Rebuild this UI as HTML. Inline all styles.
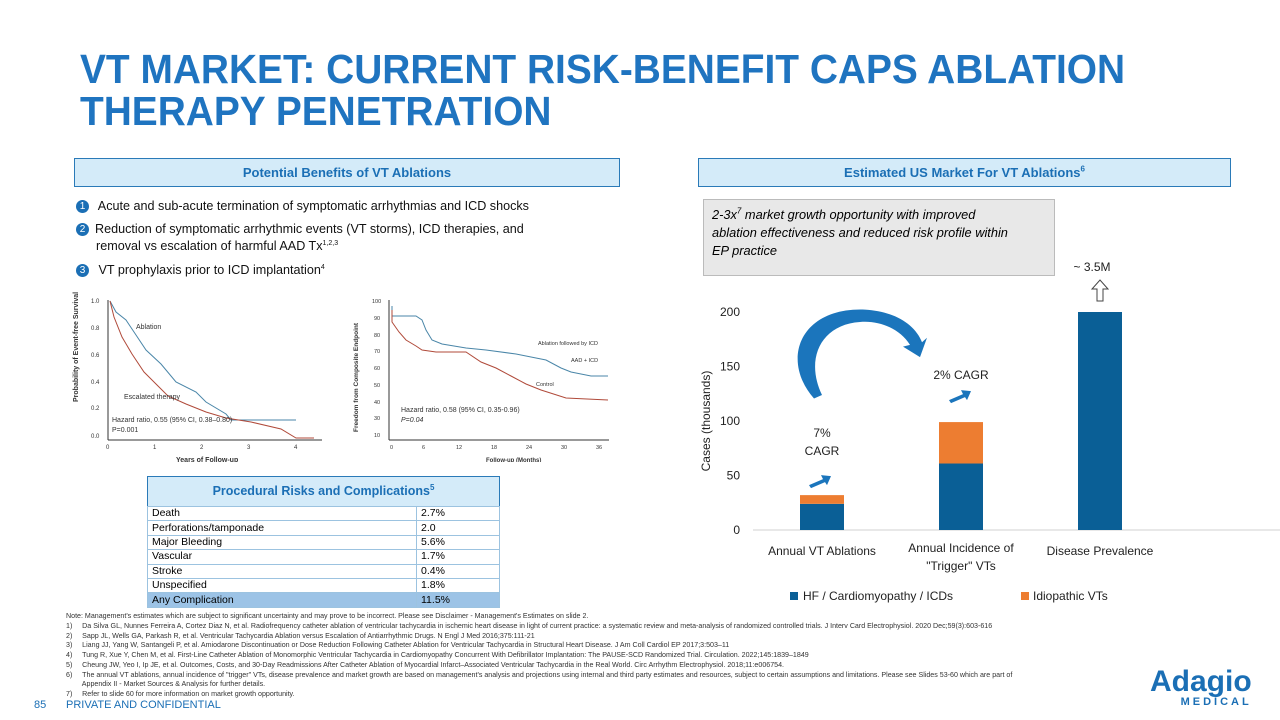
<!DOCTYPE html>
<html><head><meta charset="utf-8"><style>
body{margin:0;width:1280px;height:720px;position:relative;overflow:hidden;background:#fff;font-family:"Liberation Sans",sans-serif}
.abs{position:absolute}
.title{left:80px;top:48px;font-size:41px;font-weight:bold;color:#1f74c0;line-height:42px;transform:scaleX(0.948);transform-origin:left top;white-space:nowrap}
.hdr{background:#d4ebf9;border:1px solid #2a7ab8;color:#1b6fb5;font-weight:bold;font-size:13px;text-align:center;line-height:27px;height:27px}
.hdr sup{line-height:0;font-size:8px}
.bul{font-size:12.6px;color:#111;line-height:17px}
.num{display:inline-block;width:13px;height:13px;border-radius:50%;background:#1b6fb5;color:#fff;font-size:10px;text-align:center;line-height:13px;margin-right:6px;vertical-align:1px}
table{border-collapse:collapse;font-size:10.5px}
td{border:1px solid #9cc3e0;padding:0 4px;height:13.4px;line-height:13px}
.fn{left:66px;font-size:7.1px;color:#333;line-height:9.75px;width:1100px;white-space:nowrap}
</style></head><body>
<div class="abs title">VT MARKET: CURRENT RISK-BENEFIT CAPS ABLATION<br>THERAPY PENETRATION</div>
<div class="abs hdr" style="left:74px;top:158px;width:544px">Potential Benefits of VT Ablations</div>
<div class="abs hdr" style="left:698px;top:158px;width:531px">Estimated US Market For VT Ablations<sup>6</sup></div>
<div class="abs bul" style="left:76px;top:198px"><span class="num">1</span> Acute and sub-acute termination of symptomatic arrhythmias and ICD shocks</div>
<div class="abs bul" style="left:76px;top:221px;width:500px"><span class="num">2</span>Reduction of symptomatic arrhythmic events (VT storms), ICD therapies, and<br><span style="padding-left:20px">removal vs escalation of harmful AAD Tx<sup style="font-size:7px;line-height:0">1,2,3</sup></span></div>
<div class="abs bul" style="left:76px;top:262px"><span class="num">3</span> VT prophylaxis prior to ICD implantation<sup style="font-size:7px;line-height:0">4</sup></div>

<svg class="abs" style="left:66px;top:292px" width="560" height="170" font-family="Liberation Sans" font-size="7" fill="#333">
<text transform="translate(12,110) rotate(-90)" font-weight="bold" font-size="7">Probability of Event-free Survival</text>
<line x1="42" y1="8" x2="42" y2="148" stroke="#333"/><line x1="42" y1="148" x2="256" y2="148" stroke="#333"/>
<g font-size="6"><text x="25" y="11">1.0</text><text x="25" y="38">0.8</text><text x="25" y="65">0.6</text><text x="25" y="92">0.4</text><text x="25" y="118">0.2</text><text x="25" y="146">0.0</text>
<text x="40" y="157">0</text><text x="87" y="157">1</text><text x="134" y="157">2</text><text x="181" y="157">3</text><text x="228" y="157">4</text></g>
<text x="110" y="170" font-weight="bold">Years of Follow-up</text>
<polyline fill="none" stroke="#4a86a8" stroke-width="1" points="44,9 50,20 60,28 68,40 80,58 95,72 110,90 130,100 140,110 160,122 165,128 230,128"/>
<polyline fill="none" stroke="#b04a3a" stroke-width="1" points="44,9 48,25 56,45 66,62 78,80 90,92 102,104 120,112 140,120 160,126 185,130 215,137 230,146 248,146"/>
<text x="70" y="37">Ablation</text><text x="58" y="107">Escalated therapy</text>
<text x="46" y="130">Hazard ratio, 0.55 (95% CI, 0.38–0.80)</text><text x="46" y="140">P=0.001</text>
<text transform="translate(292,140) rotate(-90)" font-weight="bold" font-size="6.5">Freedom from Composite Endpoint</text>
<line x1="323" y1="8" x2="323" y2="148" stroke="#333"/><line x1="323" y1="148" x2="543" y2="148" stroke="#333"/>
<g font-size="5.5"><text x="306" y="11">100</text><text x="308" y="28">90</text><text x="308" y="45">80</text><text x="308" y="61">70</text><text x="308" y="78">60</text><text x="308" y="95">50</text><text x="308" y="112">40</text><text x="308" y="128">30</text><text x="308" y="145">10</text>
<text x="324" y="157">0</text><text x="356" y="157">6</text><text x="390" y="157">12</text><text x="425" y="157">18</text><text x="460" y="157">24</text><text x="495" y="157">30</text><text x="530" y="157">36</text></g>
<text x="420" y="170" font-weight="bold" font-size="6">Follow-up (Months)</text>
<polyline fill="none" stroke="#4a86a8" points="326,14 326,24 350,24 356,28 360,38 366,48 376,52 400,56 420,58 450,62 480,68 495,76 505,80 525,84 542,84"/>
<polyline fill="none" stroke="#b04a3a" points="326,18 326,30 333,40 340,48 350,54 356,58 370,60 400,60 415,70 430,76 445,84 460,92 475,98 500,106 542,108"/>
<text x="472" y="53" font-size="5.5">Ablation followed by ICD</text><text x="505" y="70" font-size="5.5">AAD + ICD</text><text x="470" y="94" font-size="5.5">Control</text>
<text x="335" y="120">Hazard ratio, 0.58 (95% CI, 0.35-0.96)</text><text x="335" y="130" font-style="italic">P=0.04</text>
</svg>

<div class="abs hdr" style="left:147px;top:476px;width:351px;font-size:12.5px;line-height:29px;height:29px;border-bottom:none">Procedural Risks and Complications<sup>5</sup></div>
<table class="abs" style="left:147px;top:506px;width:353px">
<tr><td style="width:260px">Death</td><td>2.7%</td></tr>
<tr><td>Perforations/tamponade</td><td>2.0</td></tr>
<tr><td>Major Bleeding</td><td>5.6%</td></tr>
<tr><td>Vascular</td><td>1.7%</td></tr>
<tr><td>Stroke</td><td>0.4%</td></tr>
<tr><td>Unspecified</td><td>1.8%</td></tr>
<tr style="background:#9cc3e6"><td>Any Complication</td><td>11.5%</td></tr>
</table>

<div class="abs" style="left:703px;top:199px;width:352px;height:77px;background:#e8e8e8;border:1px solid #bbb;font-size:12.8px;font-style:italic;line-height:18px;padding:6px 42px 0 8px;box-sizing:border-box">2-3x<sup style="font-size:8px;line-height:0">7</sup> market growth opportunity with improved ablation effectiveness and reduced risk profile within EP practice</div>

<svg class="abs" style="left:660px;top:255px" width="620" height="360" id="chart" font-family="Liberation Sans" font-size="12" fill="#222"></svg>

<div class="abs fn" style="top:612px">Note: Management's estimates which are subject to significant uncertainty and may prove to be incorrect. Please see Disclaimer - Management's Estimates on slide 2.<br>
1)&nbsp;&nbsp;&nbsp;&nbsp;&nbsp;Da Silva GL, Nunnes Ferreira A, Cortez Diaz N, et al. Radiofrequency catheter ablation of ventricular tachycardia in ischemic heart disease in light of current practice: a systematic review and meta-analysis of randomized controlled trials. J Interv Card Electrophysiol. 2020 Dec;59(3):603-616<br>
2)&nbsp;&nbsp;&nbsp;&nbsp;&nbsp;Sapp JL, Wells GA, Parkash R, et al. Ventricular Tachycardia Ablation versus Escalation of Antiarrhythmic Drugs. N Engl J Med 2016;375:111-21<br>
3)&nbsp;&nbsp;&nbsp;&nbsp;&nbsp;Liang JJ, Yang W, Santangeli P, et al. Amiodarone Discontinuation or Dose Reduction Following Catheter Ablation for Ventricular Tachycardia in Structural Heart Disease. J Am Coll Cardiol EP 2017;3:503–11<br>
4)&nbsp;&nbsp;&nbsp;&nbsp;&nbsp;Tung R, Xue Y, Chen M, et al. First-Line Catheter Ablation of Monomorphic Ventricular Tachycardia in Cardiomyopathy Concurrent With Defibrillator Implantation: The PAUSE-SCD Randomized Trial. Circulation. 2022;145:1839–1849<br>
5)&nbsp;&nbsp;&nbsp;&nbsp;&nbsp;Cheung JW, Yeo I, Ip JE, et al. Outcomes, Costs, and 30-Day Readmissions After Catheter Ablation of Myocardial Infarct–Associated Ventricular Tachycardia in the Real World. Circ Arrhythm Electrophysiol. 2018;11:e006754.<br>
6)&nbsp;&nbsp;&nbsp;&nbsp;&nbsp;The annual VT ablations, annual incidence of "trigger" VTs, disease prevalence and market growth are based on management's analysis and projections using internal and third party estimates and resources, subject to certain assumptions and limitations. Please see Slides 53-60 which are part of<br>
&nbsp;&nbsp;&nbsp;&nbsp;&nbsp;&nbsp;&nbsp;&nbsp;Appendix II - Market Sources &amp; Analysis for further details.<br>
7)&nbsp;&nbsp;&nbsp;&nbsp;&nbsp;Refer to slide 60 for more information on market growth opportunity.</div>
<div class="abs" style="left:34px;top:699px;font-size:11px;color:#1b6fb5">85</div>
<div class="abs" style="left:66px;top:699px;font-size:11px;color:#1b6fb5">PRIVATE AND CONFIDENTIAL</div>
<div class="abs" style="left:1150px;top:668px;font-size:30px;font-weight:bold;color:#1b6fb5;line-height:28px">Adagio<div style="font-size:11px;letter-spacing:3px;text-align:right;line-height:12px">MEDICAL</div></div>

<script>
const categories=["Annual VT Ablations","Annual Incidence of|\"Trigger\" VTs","Disease Prevalence"];
const hfValues=[24,61,200];
const idioValues=[8,38,0];
const yTicks=[0,50,100,150,200];
const svg=document.getElementById('chart');
const NS="http://www.w3.org/2000/svg";
const ox=660,oy=255;
const y0=530-oy, pxPer=218/200;
const yS=v=>y0-v*pxPer;
const xS=i=>822-ox+i*139;
const bw=44;
function mk(t,a,p){const e=document.createElementNS(NS,t);for(const k in a)e.setAttribute(k,a[k]);(p||svg).appendChild(e);return e;}
yTicks.forEach(v=>{const t=mk('text',{x:80,y:yS(v)+4,'text-anchor':'end'});t.textContent=v;

});
const yt=mk('text',{transform:`translate(50,${yS(100)}) rotate(-90)`,'text-anchor':'middle'});yt.textContent='Cases (thousands)';


const ax=mk('line',{x1:93,x2:620,y1:yS(0),y2:yS(0),stroke:'#d0d0d0'});


categories.forEach((c,i)=>{
 const b1=mk('rect',{x:xS(i)-bw/2,y:yS(hfValues[i]),width:bw,height:hfValues[i]*pxPer,fill:'#0a5f96'});
 
 
 if(idioValues[i]>0){const b2=mk('rect',{x:xS(i)-bw/2,y:yS(hfValues[i]+idioValues[i]),width:bw,height:idioValues[i]*pxPer,fill:'#ed7d31'});
 
 }
 const lines=c.split('|');
 lines.forEach((l,j)=>{const t=mk('text',{x:xS(i),y:yS(0)+(lines.length>1?22:25)+j*18,'text-anchor':'middle'});t.textContent=l;
 
 });
});
const lg=mk('g',{});


mk('rect',{x:130,y:337,width:8,height:8,fill:'#0a5f96'},lg);
let t1=mk('text',{x:143,y:345},lg);t1.textContent='HF / Cardiomyopathy / ICDs';
mk('rect',{x:361,y:337,width:8,height:8,fill:'#ed7d31'},lg);
let t2=mk('text',{x:373,y:345},lg);t2.textContent='Idiopathic VTs';
function txt(x,y,s){const t=mk('text',{x:x,y:y,'text-anchor':'middle'});t.textContent=s;return t;}
const a1=txt(xS(0),182,'7%');
txt(xS(0),200,'CAGR');
const a2=txt(xS(1),124,'2% CAGR');
const a3=txt(xS(2)-8,16,'~ 3.5M');
mk('path',{d:`M${xS(2)-3},46 v-12 h-5 l8,-9 l8,9 h-5 v12 z`,fill:'#fff',stroke:'#444'});
function sArrow(x,y){mk('path',{d:`M${x},${y} l14,-6 l-2,-4 l10,1 l-4,9 l-2,-3 l-14,6 z`,fill:'#1b75bc'});}
sArrow(xS(0)-13,yS(hfValues[0]+idioValues[0])-10);
sArrow(xS(1)-12,yS(hfValues[1]+idioValues[1])-22);
const ca=mk('path',{d:'M154,104 C120,60 140,0 205,3 C235,5 255,20 262,40 L267,35 L260,57 L243,45 L250,43 C240,25 220,15 200,17 C160,20 145,60 162,100 Z',fill:'#1b75bc',transform:'translate(0,52) scale(1,0.88)'});


</script>
</body></html>
